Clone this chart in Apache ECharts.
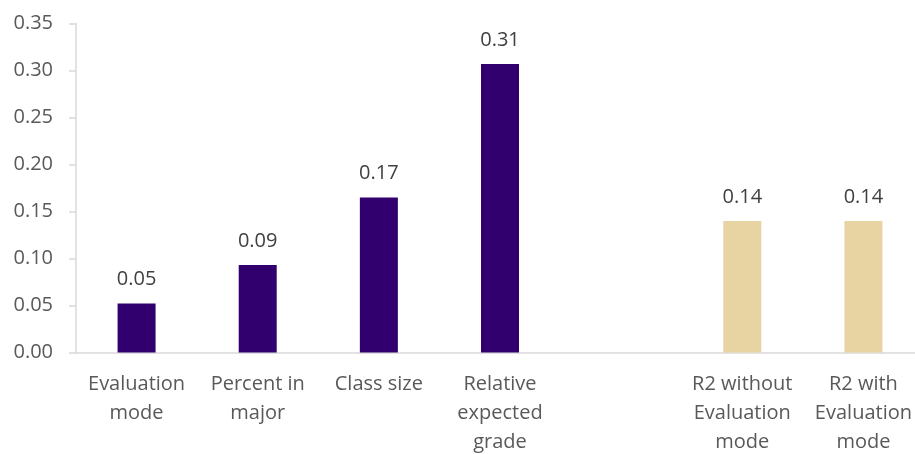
<!DOCTYPE html>
<html>
<head>
<meta charset="utf-8">
<script src="https://cdn.jsdelivr.net/npm/echarts@6/dist/echarts.min.js"></script>
<style>
html,body{margin:0;padding:0;background:#fff;overflow:hidden;}
#chart{width:915px;height:454px;}
</style>
</head>
<body>
<div id="chart"></div>
<script>
const categories = ["Evaluation\nmode", "Percent in\nmajor", "Class size", "Relative\nexpected\ngrade", "", "R2 without\nEvaluation\nmode", "R2 with\nEvaluation\nmode"];
const values = [0.052, 0.093, 0.165, 0.307, null, 0.14, 0.14];
const highlightFrom = 5;
const yTicks = { min: 0, max: 0.35, interval: 0.05 };

const chart = echarts.init(document.getElementById('chart'));
const font = '"Open Sans", sans-serif';
chart.setOption({
  animation: false,
  grid: { left: 76, top: 23.5, width: 848, height: 329, containLabel: false, outerBoundsMode: 'none' },
  xAxis: {
    type: 'category',
    data: categories,
    axisLine: { lineStyle: { color: '#d9d9d9', width: 1.5 } },
    axisTick: { show: false },
    axisLabel: { color: '#595959', fontSize: 20, fontFamily: font, lineHeight: 29, margin: 17, interval: 0 }
  },
  yAxis: {
    type: 'value',
    min: yTicks.min, max: yTicks.max, interval: yTicks.interval,
    splitLine: { show: false },
    axisLine: { show: true, lineStyle: { color: '#d9d9d9', width: 1.5 } },
    axisTick: { show: true, length: 7, lineStyle: { color: '#d9d9d9', width: 1.5 } },
    axisLabel: { color: '#595959', fontSize: 20, fontFamily: font, margin: 23, formatter: v => v.toFixed(2) }
  },
  series: [{
    type: 'bar',
    barWidth: 38,
    data: values.map(v => v === null ? '-' : v),
    itemStyle: { color: p => p.dataIndex >= highlightFrom ? '#e8d4a2' : '#32006e' },
    label: { show: true, position: 'top', distance: 14, color: '#404040', fontSize: 20, fontFamily: font, formatter: p => p.value.toFixed(2) }
  }]
});
</script>
</body>
</html>
